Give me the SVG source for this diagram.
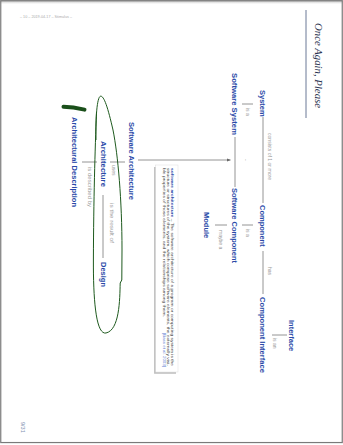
<svg xmlns="http://www.w3.org/2000/svg" width="343" height="445" viewBox="0 0 343 445">
<defs>
<linearGradient id="topShade" x1="0" y1="0" x2="0" y2="1"><stop offset="0" stop-color="#b8b8b8"/><stop offset="1" stop-color="#ffffff"/></linearGradient>
<marker id="arr" viewBox="0 0 6 6" refX="5.5" refY="3" markerWidth="5" markerHeight="5" orient="auto"><path d="M0,0.5 L5.8,3 L0,5.5 z" fill="#666"/></marker>
</defs>
<style>
.n{font-family:"Liberation Sans",Arial,sans-serif;font-weight:bold;font-size:7.5px;fill:#2a4aa8}
.l{font-family:"Liberation Sans",Arial,sans-serif;font-size:5px;fill:#9a9a9a}
.e{stroke:#7a7a7a;stroke-width:0.8;fill:none}
.d{font-family:"Liberation Sans",Arial,sans-serif;font-size:3.9px;fill:#444}
.db{font-weight:bold;fill:#2a4aa8}
.dc{fill:#5a7ad0}
.g{fill:none;stroke:#1e5a1e;stroke-width:1}
</style>
<rect x="0" y="0" width="343" height="445" fill="#ffffff"/>
<rect x="0" y="0" width="343" height="4" fill="url(#topShade)"/>
<rect x="0.75" y="0.75" width="341.5" height="441.8" fill="none" stroke="#7a7a7a" stroke-width="1.2"/>
<text x="20" y="17.5" font-family="Liberation Sans, Arial, sans-serif" font-size="3.5" fill="#aaa" textLength="52" lengthAdjust="spacingAndGlyphs">– 10 – 2019-04-17 – Stimulus –</text>

<g id="slide" transform="translate(343,0) rotate(90)">
  <g id="title">
    <text x="23" y="28.5" font-family="Liberation Serif, Times New Roman, serif" font-style="italic" font-size="11" fill="#2a3350" textLength="85" lengthAdjust="spacingAndGlyphs">Once Again, Please</text>
    <line x1="10" y1="37" x2="118" y2="37" stroke="#5a6a8a" stroke-width="0.9"/>
  </g>

  <g id="connectors">
    <line class="e" x1="117" y1="80" x2="203" y2="80"/>
    <text class="l" x="133" y="75" textLength="47" lengthAdjust="spacingAndGlyphs">consists of 1 or more</text>
    <line class="e" x1="251" y1="80" x2="294" y2="80"/>
    <text class="l" x="267" y="75">has</text>
    <line class="e" x1="335" y1="56" x2="335" y2="71"/>
    <text class="l" x="338" y="70.5">is an</text>
    <line class="e" x1="104" y1="90" x2="104" y2="101"/>
    <text class="l" x="108" y="97">is a</text>
    <line class="e" x1="225" y1="90" x2="225" y2="101"/>
    <text class="l" x="229" y="97">is a</text>
    <line class="e" x1="137" y1="108" x2="187" y2="108"/>
    <text class="l" x="159" y="99" font-size="4">-</text>
    <line class="e" x1="225" y1="116" x2="225" y2="128"/>
    <text class="l" x="230" y="123.7">maybe a</text>
    <path class="e" d="M160,205 L160,112.5" marker-end="url(#arr)"/>
    <line class="e" x1="162" y1="218" x2="162" y2="233"/>
    <text class="l" x="165" y="231.5">uses</text>
    <line class="e" x1="162" y1="246" x2="162" y2="261"/>
    <text class="l" x="167" y="254.8" textLength="40" lengthAdjust="spacingAndGlyphs">is described by</text>
    <line class="e" x1="195" y1="240" x2="258" y2="240"/>
    <text class="l" x="203" y="233.3" textLength="40" lengthAdjust="spacingAndGlyphs">is the result of</text>
  </g>

  <g id="system"><text class="n" x="90" y="83.2">System</text></g>
  <g id="component"><text class="n" x="205" y="83.2">Component</text></g>
  <g id="component-interface"><text class="n" x="297" y="83.2" textLength="76" lengthAdjust="spacingAndGlyphs">Component Interface</text></g>
  <g id="interface"><text class="n" x="320" y="53.7">Interface</text></g>
  <g id="software-system"><text class="n" x="73" y="110.7" textLength="62" lengthAdjust="spacingAndGlyphs">Software System</text></g>
  <g id="software-component"><text class="n" x="188" y="110.7" textLength="75" lengthAdjust="spacingAndGlyphs">Software Component</text></g>
  <g id="module"><text class="n" x="212" y="139.2">Module</text></g>
  <g id="software-architecture"><text class="n" x="122" y="214.2" textLength="78" lengthAdjust="spacingAndGlyphs">Software Architecture</text></g>
  <g id="architecture"><text class="n" x="141" y="242.2" textLength="46" lengthAdjust="spacingAndGlyphs">Architecture</text></g>
  <g id="design"><text class="n" x="262" y="242.2">Design</text></g>
  <g id="architectural-description"><text class="n" x="117" y="270.7" textLength="90" lengthAdjust="spacingAndGlyphs">Architectural Description</text></g>

  <g id="definition">
    <rect x="165" y="165" width="207" height="22.5" fill="#ffffff" stroke="#dddddd" stroke-width="0.5"/>
    <path d="M167,188.2 L373,188.2 L373,167" fill="none" stroke="#bdbdbd" stroke-width="1.4"/>
    <text class="d" x="168" y="171.6" textLength="198" lengthAdjust="spacingAndGlyphs"><tspan class="db">software architecture</tspan> – The software architecture of a program or computing system is the</text>
    <text class="d" x="168" y="175.9" textLength="198" lengthAdjust="spacingAndGlyphs">structure or structures of the system, which comprise software elements, the externally visi-</text>
    <text class="d" x="168" y="180.4" textLength="149" lengthAdjust="spacingAndGlyphs">ble properties of those elements, and the relationships among them.</text>
    <text class="d dc" x="333" y="180.4" textLength="34" lengthAdjust="spacingAndGlyphs">[Bass et al. 2003]</text>
  </g>

  <g id="page-number">
    <text x="422" y="322" font-family="Liberation Sans, Arial, sans-serif" font-size="5.5" fill="#8090b0">9/31</text>
  </g>
</g>

<g id="annotation">
  <path class="g" d="M96,140 C95.5,118 97,97 100.5,96.2 C104,95.5 108,108 113,130 C118,155 122,200 122,250 L121.8,280 L120.2,283 C119.8,300 119.5,330 106,333 C96,335 93.2,300 93.4,260 C93.6,200 95,150 96.5,112"/>
  <path d="M63.5,106.8 C70,107 78,108.2 84.5,109.6" fill="none" stroke="#1a4f1a" stroke-width="4" stroke-linecap="round"/>
</g>
</svg>
